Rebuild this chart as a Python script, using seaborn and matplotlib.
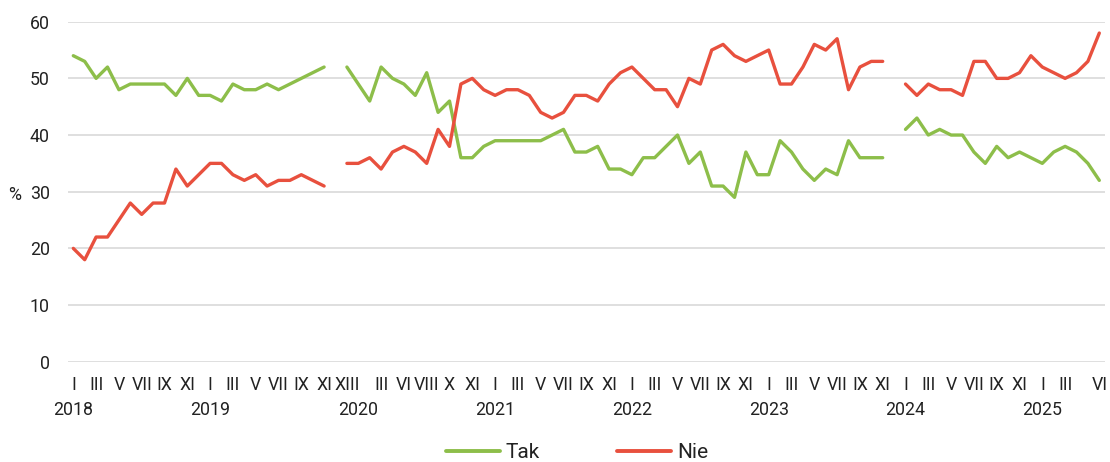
import numpy as np
import pandas as pd
import matplotlib
matplotlib.use("Agg")
import matplotlib.pyplot as plt
import seaborn as sns

nan = np.nan

# Survey values (%), one entry per category position; nan = no survey (gap)
tak = [54, 53, 50, 52, 48, 49, 49, 49, 49, 47, 50, 47, 47, 46, 49, 48, 48, 49, 48, 49, 50, 51, 52,
       nan,
       52, 49, 46, 52, 50, 49, 47, 51, 44, 46, 36, 36, 38, 39, 39, 39, 39, 39, 40, 41, 37, 37,
       38, 34, 34, 33, 36, 36, 38, 40, 35, 37, 31, 31, 29, 37, 33, 33, 39, 37, 34, 32, 34, 33,
       39, 36, 36, 36,
       nan,
       41, 43, 40, 41, 40, 40, 37, 35, 38, 36, 37, 36, 35, 37, 38, 37, 35, 32]

nie = [20, 18, 22, 22, 25, 28, 26, 28, 28, 34, 31, 33, 35, 35, 33, 32, 33, 31, 32, 32, 33, 32, 31,
       nan,
       35, 35, 36, 34, 37, 38, 37, 35, 41, 38, 49, 50, 48, 47, 48, 48, 47, 44, 43, 44, 47, 47,
       46, 49, 51, 52, 50, 48, 48, 45, 50, 49, 55, 56, 54, 53, 54, 55, 49, 49, 52, 56, 55, 57,
       48, 52, 53, 53,
       nan,
       49, 47, 49, 48, 48, 47, 53, 53, 50, 50, 51, 54, 52, 51, 50, 51, 53, 58]

series_names = ["Tak", "Nie"]
series_colors = ["#8DBE4A", "#E8503E"]

month_tick_pos = [0, 2, 4, 6, 8, 10, 12, 14, 16, 18, 20, 22, 24, 27, 29, 31, 33, 35,
                  37, 39, 41, 43, 45, 47, 49, 51, 53, 55, 57, 59, 61, 63, 65, 67, 69, 71,
                  73, 75, 77, 79, 81, 83, 85, 87, 90]
month_tick_labels = ["I", "III", "V", "VII", "IX", "XI", "I", "III", "V", "VII", "IX", "XI",
                     "XIII", "III", "VI", "VIII", "X", "XI",
                     "I", "III", "V", "VII", "IX", "XI", "I", "III", "V", "VII", "IX", "XI",
                     "I", "III", "V", "VII", "IX", "XI", "I", "III", "V", "VII", "IX", "XI",
                     "I", "III", "VI"]
year_tick_pos = [0, 12, 25, 37, 49, 61, 73, 85]
year_tick_labels = ["2018", "2019", "2020", "2021", "2022", "2023", "2024", "2025"]
y_ticks = [0, 10, 20, 30, 40, 50, 60]

# Long-form table, split into segments at gaps
rows = []
for name, vals in zip(series_names, [tak, nie]):
    seg = 0
    for i, v in enumerate(vals):
        if np.isnan(v):
            seg += 1
            continue
        rows.append({"idx": i, "value": v, "series": name, "seg": seg})
df = pd.DataFrame(rows)

sns.set_style("white")
plt.rcParams["font.family"] = ["Roboto", "DejaVu Sans"]
plt.rcParams["text.color"] = "#222222"

fig = plt.figure(figsize=(11.1, 4.62), dpi=100)
ax = fig.add_axes([0.0609, 0.2171, 0.9346, 0.7359])

sns.lineplot(data=df, x="idx", y="value", hue="series", units="seg", estimator=None,
             palette=dict(zip(series_names, series_colors)), hue_order=series_names,
             linewidth=2.4, ax=ax, legend=True)

ax.set_xlim(-0.5, len(tak) - 0.5)
ax.set_ylim(0, 60)
ax.set_yticks(y_ticks)
ax.set_xticks(month_tick_pos)
ax.set_xticklabels(month_tick_labels)

ax.tick_params(axis="x", which="major", length=0, pad=10.5, labelsize=12.8, colors="#222222")
ax.tick_params(axis="y", length=0, pad=12.7, labelsize=12.8, colors="#222222")

# second row of labels: years
sec = ax.secondary_xaxis("bottom")
sec.set_xticks(year_tick_pos)
sec.set_xticklabels(year_tick_labels)
sec.tick_params(axis="x", length=0, pad=28.5, labelsize=12.8, colors="#222222")
for s in sec.spines.values():
    s.set_visible(False)

ax.yaxis.grid(True, color="#d9d9d9", linewidth=1.2)
ax.xaxis.grid(False)
ax.set_axisbelow(True)
for s in ax.spines.values():
    s.set_visible(False)

ax.set_xlabel("")
ax.set_ylabel("%", rotation=0, fontsize=12.8, color="#222222", ha="center", va="center")
ax.yaxis.set_label_coords(-0.0507, 0.49)

sns.move_legend(ax, "center", bbox_to_anchor=(0.52, 0.021), bbox_transform=fig.transFigure,
                ncol=2, frameon=False, title=None, fontsize=15, handlelength=2.6,
                handletextpad=0.3, columnspacing=3.7)
for line in ax.get_legend().get_lines():
    line.set_linewidth(2.8)

fig.savefig("out.png", dpi=100)
